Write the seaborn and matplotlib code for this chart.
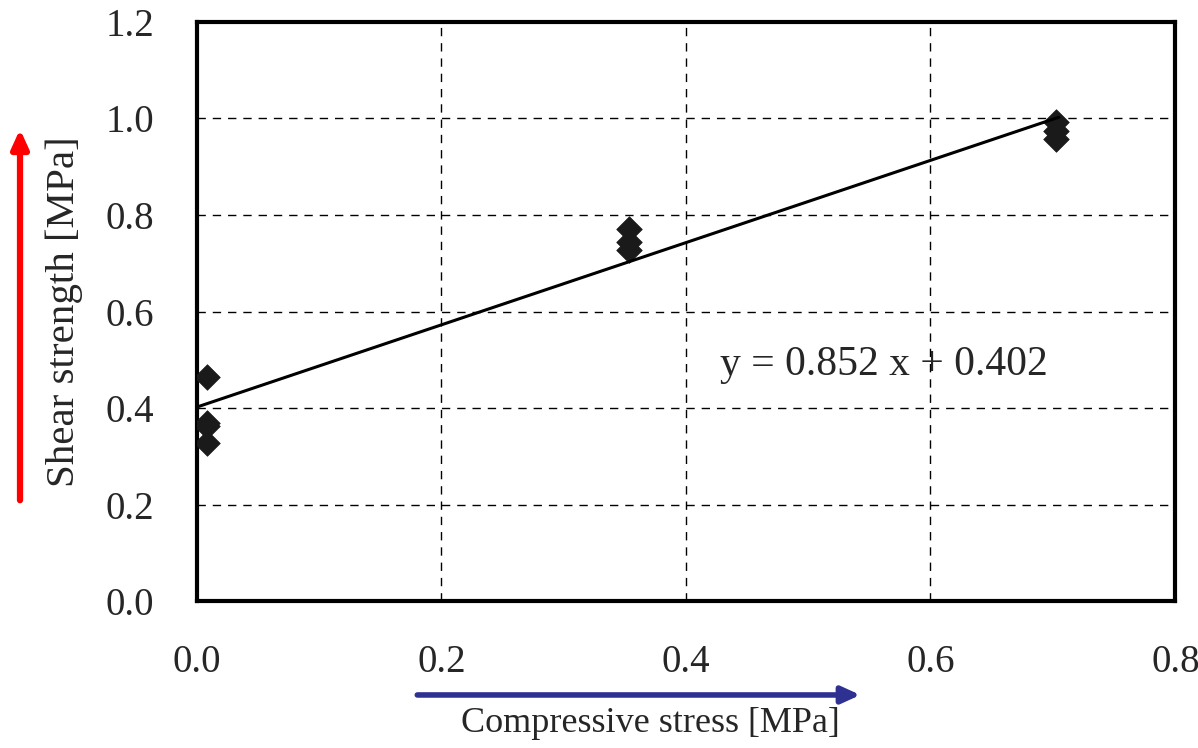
import numpy as np
import pandas as pd
import matplotlib
matplotlib.use("Agg")
import matplotlib.pyplot as plt
import seaborn as sb

# valori
stress = [0.008, 0.008, 0.008, 0.008, 0.353, 0.353, 0.353, 0.703, 0.703, 0.703]
strength = [0.464, 0.368, 0.362, 0.328, 0.771, 0.745, 0.727, 0.992, 0.975, 0.957]
slope = 0.852
intercept = 0.402
x_ticks = [0.0, 0.2, 0.4, 0.6, 0.8]
y_ticks = [0.0, 0.2, 0.4, 0.6, 0.8, 1.0, 1.2]

df = pd.DataFrame({"stress": stress, "strength": strength})

sb.set_style("white")
plt.rcParams["font.family"] = ["Liberation Serif", "DejaVu Serif"]

fig = plt.figure(figsize=(11.98, 7.48), dpi=100)
ax = fig.add_axes([0.1644, 0.1965, 0.8164, 0.7741])

ax.grid(True, color="black", linestyle=(0, (6, 5)), linewidth=1.0)
ax.set_axisbelow(True)

sb.scatterplot(data=df, x="stress", y="strength", marker="D", s=170,
               color="#1a1a1a", edgecolor="#1a1a1a", linewidth=0.5, ax=ax, zorder=3)

xl = np.array([0.0, 0.705])
ax.plot(xl, slope * xl + intercept, color="black", linewidth=2.2, zorder=4)

ax.text(0.428, 0.489, "y = 0.852 x + 0.402", fontsize=30, va="center", ha="left")

ax.set_xlim(0, 0.8)
ax.set_ylim(0, 1.2)
ax.set_xticks(x_ticks)
ax.set_yticks(y_ticks)
ax.set_xticklabels([f"{v:.1f}" for v in x_ticks])
ax.set_yticklabels([f"{v:.1f}" for v in y_ticks])
ax.tick_params(axis="both", labelsize=28, length=0)
ax.tick_params(axis="x", pad=31)
ax.tick_params(axis="y", pad=31)

# ultima eticheta putin spre stanga ca sa nu fie taiata
lbl = ax.get_xticklabels()[-1]
lbl.set_horizontalalignment("right")
lbl.set_transform(lbl.get_transform() + matplotlib.transforms.ScaledTranslation(18 / 72, 0, fig.dpi_scale_trans))

for s in ax.spines.values():
    s.set_color("black")
    s.set_linewidth(3)

ax.set_xlabel("Compressive stress [MPa]", fontsize=26)
ax.xaxis.set_label_coords(0.464, -0.183)
ax.set_ylabel("Shear strength [MPa]", fontsize=29.5, labelpad=16)

# sageti
fig.patches.append(matplotlib.patches.FancyArrowPatch(
    (0.0167, 0.3275), (0.0167, 0.831), transform=fig.transFigure,
    arrowstyle="-|>,head_length=11,head_width=5", color="red", linewidth=4.5,
    mutation_scale=1))
fig.patches.append(matplotlib.patches.FancyArrowPatch(
    (0.346, 0.0709), (0.7205, 0.0709), transform=fig.transFigure,
    arrowstyle="-|>,head_length=11,head_width=5", color="#2e3192", linewidth=4,
    mutation_scale=1))

fig.savefig("out.png", dpi=100)
